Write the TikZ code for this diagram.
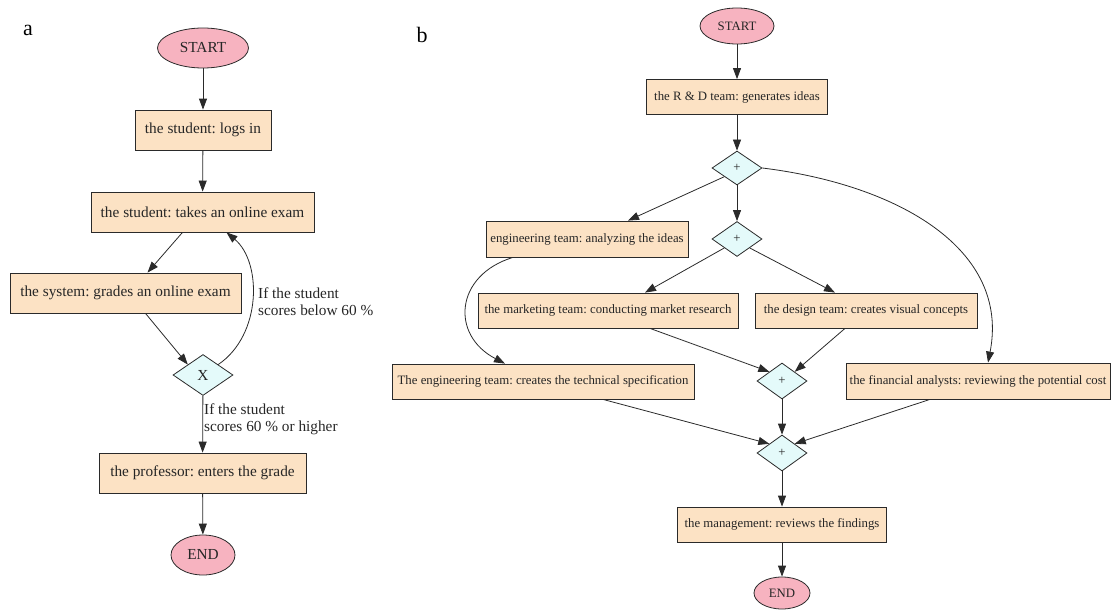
\documentclass[tikz,border=0pt]{standalone}
\usepackage{fontspec}
\setmainfont{Liberation Serif}
\usetikzlibrary{shapes.geometric,arrows.meta}
\definecolor{boxfill}{HTML}{FCE2C4}
\definecolor{endfill}{HTML}{F7B3C0}
\definecolor{gwfill}{HTML}{E4FAFA}
\definecolor{edgecol}{HTML}{2A2A2A}
\frenchspacing
\tikzset{
  fa/.style={font=\fontsize{15.3}{17}\selectfont},
  fb/.style={font=\fontsize{12.8}{14.5}\selectfont},
  task/.style={draw=edgecol, line width=0.8pt, fill=boxfill, rectangle, inner sep=0pt, text=black!85},
  term/.style={draw=edgecol, line width=0.8pt, fill=endfill, ellipse, inner sep=0pt, text=black!85},
  gw/.style={draw=edgecol, line width=0.8pt, fill=gwfill, diamond, inner sep=0pt, text=black!85},
  flow/.style={draw=edgecol, line width=0.8pt, -{Triangle[length=11pt,width=8pt]}},
  lbl/.style={align=left, inner sep=0pt, anchor=west, text=black!85},
}
\begin{document}
\begin{tikzpicture}[x=1pt,y=-1pt]
\useasboundingbox (0,0) rectangle (1111,610);
% ---------------- panel a
\node[font=\fontsize{22}{24}\selectfont] (la) at (28,30) {a};
\node[term,fa,minimum width=91pt,minimum height=40pt] (as) at (203,48) {START};
\node[task,fa,minimum width=136pt,minimum height=40pt] (a1) at (203,130) {the student: logs in};
\node[task,fa,minimum width=223pt,minimum height=40pt] (a2) at (202.5,212) {the student: takes an online exam};
\node[task,fa,minimum width=231pt,minimum height=40pt] (a3) at (125.5,293) {the system: grades an online exam};
\node[gw,fa,minimum width=60pt,minimum height=41pt] (ax) at (203,375) {X};
\node[task,fa,minimum width=207pt,minimum height=40pt] (a4) at (202.5,473) {the professor: enters the grade};
\node[term,fa,minimum width=64pt,minimum height=40pt] (ae) at (203,555) {END};
\node[lbl,fa] (l1) at (258,302) {If the student\\scores below 60 \%};
\node[lbl,fa] (l2) at (204,419) {If the student\\scores 60 \% or higher};
\draw[flow] (as) -- (a1);
\draw[flow] (a1) -- (a2);
\draw[flow] ([xshift=-20pt]a2.south) -- ([xshift=22pt]a3.north);
\draw[flow] ([xshift=20pt]a3.south) -- (ax.north west);
\draw[flow] (ax.north east) .. controls (262,335) and (262,262) .. ([xshift=24pt]a2.south);
\draw[flow] (ax) -- (a4);
\draw[flow] (a4) -- (ae);
% ---------------- panel b
\node[font=\fontsize{22}{24}\selectfont] (lb) at (422,35) {b};
\node[term,fb,minimum width=74pt,minimum height=36pt] (bs) at (737,26) {START};
\node[task,fb,minimum width=181pt,minimum height=35pt] (b1) at (737,97) {the R \& D team: generates ideas};
\node[gw,fb,minimum width=50pt,minimum height=34pt] (d1) at (737,168) {+};
\node[gw,fb,minimum width=50pt,minimum height=35pt] (d2) at (737,239) {+};
\node[task,fb,minimum width=202pt,minimum height=36pt] (b2) at (587,239) {engineering team: analyzing the ideas};
\node[task,fb,minimum width=260pt,minimum height=35pt] (b3) at (608,310.5) {the marketing team: conducting market research};
\node[task,fb,minimum width=222pt,minimum height=35pt] (b4) at (866,310.5) {the design team: creates visual concepts};
\node[gw,fb,minimum width=50pt,minimum height=36pt] (d3) at (782,381) {+};
\node[task,fb,minimum width=264pt,minimum height=36pt] (b5) at (978,381) {the financial analysts: reviewing the potential cost};
\node[task,fb,minimum width=302pt,minimum height=35pt] (b6) at (543,381.5) {The engineering team: creates the technical specification};
\node[gw,fb,minimum width=50pt,minimum height=36pt] (d4) at (782,453) {+};
\node[task,fb,minimum width=209pt,minimum height=35pt] (b7) at (782,524.5) {the management: reviews the findings};
\node[term,fb,minimum width=56pt,minimum height=32pt] (be) at (782,593) {END};
\draw[flow] (bs) -- (b1);
\draw[flow] (b1) -- (d1);
\draw[flow] (d1) -- (d2);
\draw[flow] (d1.south west) -- ([xshift=41pt]b2.north);
\draw[flow] (d1.east) .. controls (900,185) and (1010,250) .. ([xshift=10pt]b5.north);
\draw[flow] (d2.south west) -- ([xshift=37pt]b3.north);
\draw[flow] (d2.south east) -- ([xshift=-31pt]b4.north);
\draw[flow] ([xshift=-74pt]b2.south) .. controls (455,275) and (450,335) .. ([xshift=-38pt]b6.north);
\draw[flow] ([xshift=42pt]b3.south) -- (d3.north west);
\draw[flow] ([xshift=-21pt]b4.south) -- (d3.north east);
\draw[flow] (d3) -- (d4);
\draw[flow] ([xshift=60pt]b6.south) -- (d4.north west);
\draw[flow] ([xshift=-48pt]b5.south) -- (d4.north east);
\draw[flow] (d4) -- (b7);
\draw[flow] (b7) -- (be);
\end{tikzpicture}
\end{document}
